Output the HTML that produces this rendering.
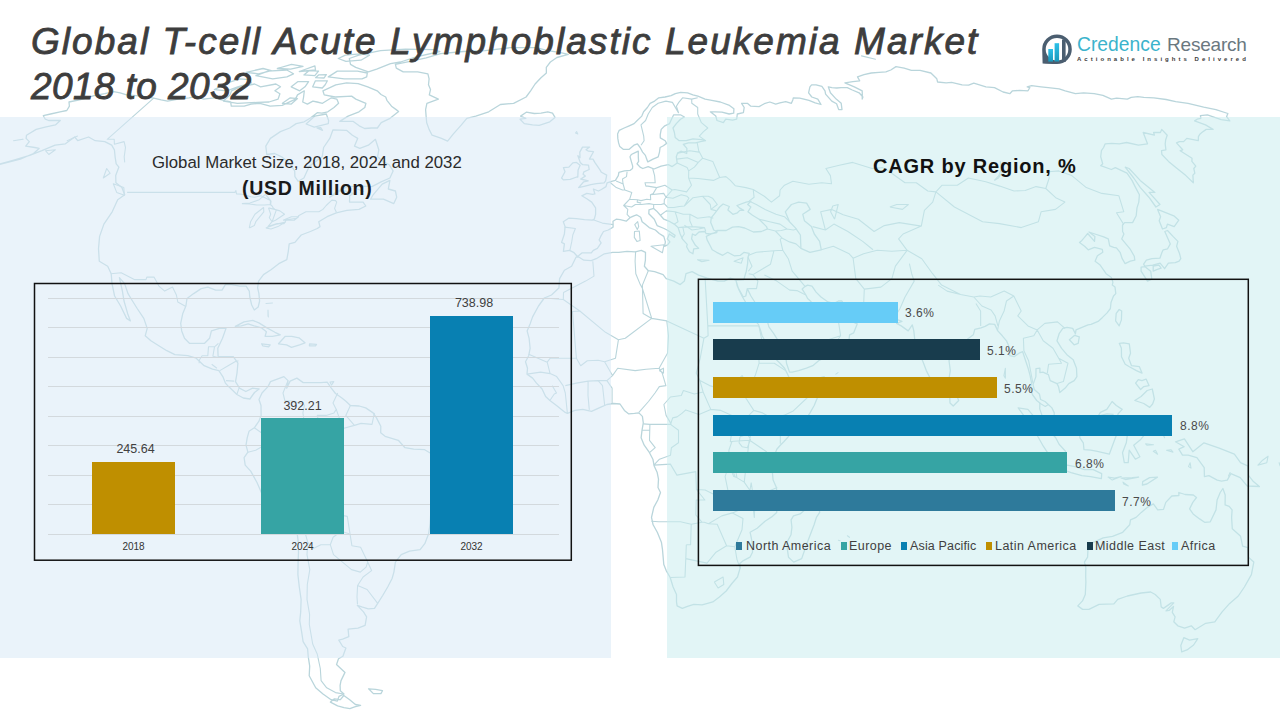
<!DOCTYPE html>
<html>
<head>
<meta charset="utf-8">
<style>
html,body{margin:0;padding:0;}
body{width:1280px;height:720px;position:relative;overflow:hidden;background:#ffffff;font-family:"Liberation Sans",sans-serif;}
.abs{position:absolute;}
#panelL{left:0;top:117px;width:611px;height:541px;background:rgba(217,233,246,0.55);}
#panelR{left:667px;top:117px;width:613px;height:541px;background:rgba(202,237,239,0.55);}
#map{left:0;top:0;width:1280px;height:720px;}
.title{left:31px;font-size:37px;font-weight:normal;font-style:italic;color:#3d3d3d;-webkit-text-stroke:0.85px #3d3d3d;line-height:45px;white-space:nowrap;}
.sub{white-space:nowrap;color:#1a1a1a;}
.grid{position:absolute;left:48px;width:511px;height:1px;background:#d3d9dd;}
.bar{position:absolute;}
.vlab{position:absolute;font-size:12.5px;color:#404040;white-space:nowrap;text-align:center;}
.xlab{position:absolute;font-size:10px;color:#333;white-space:nowrap;text-align:center;}
.hbar{position:absolute;left:713px;height:21px;}
.plab{position:absolute;font-size:12px;letter-spacing:0.5px;color:#4a4a4a;white-space:nowrap;}
.leg{position:absolute;top:539px;font-size:12.5px;letter-spacing:0.45px;color:#404040;white-space:nowrap;}
.mk{position:absolute;width:6px;height:7.5px;top:542px;}
</style>
</head>
<body>
<svg id="map" class="abs" width="1280" height="720" viewBox="0 0 1280 720"><g fill="none" stroke="#b9d5db" stroke-width="1.3" stroke-linejoin="round"><path d="M338.3 58.5L345.9 61.3L360.9 60.2L369.5 55.2L360.4 53.9L345.4 55.2L338.3 58.5ZM303.9 74.9L314.8 75.7L318.5 71.1L308.9 70.7L303.9 74.9ZM315.6 77.7L324.1 78.0L326.3 74.6L318.6 74.9L315.6 77.7ZM246.1 72.3L258.5 73.8L271.4 70.7L263.0 68.5L246.1 72.3ZM282.4 103.3L291.3 104.1L297.5 98.6L290.3 97.8L282.4 103.3ZM277.3 68.5L290.6 69.2L303.1 66.3L291.5 64.4L277.3 68.5ZM299.3 71.5L315.5 70.0L314.9 65.9L299.3 71.5ZM317.0 128.0L322.5 130.3L320.7 127.6L317.0 128.0ZM-7.3 166.1L13.8 160.0L29.7 155.4L41.9 150.7L55.1 145.2L65.4 143.8L74.7 137.0L77.7 140.7L88.6 137.0L95.2 140.7L104.8 141.6L111.7 145.2L114.4 149.8L115.1 156.8L116.2 163.8L118.9 167.1L115.7 175.6L115.9 182.8L121.9 187.6L124.7 194.8L117.7 199.7L112.2 211.8L103.9 224.1L99.6 236.4L98.5 248.8L99.3 261.2L107.7 266.2L111.2 273.7L112.0 283.6L114.6 296.0L120.6 306.0L126.6 318.4L130.4 320.9L127.6 313.4L124.0 301.0L122.4 291.1L119.4 277.6L124.6 283.6L128.0 293.6L132.5 301.0L137.2 308.5L143.8 318.4L147.2 328.4L145.2 335.8L150.9 340.8L158.8 345.8L166.8 350.7L174.9 354.7L187.8 355.7L196.2 358.2L204.1 365.7L212.5 369.2L218.9 370.6L222.8 376.6L225.4 383.1L228.6 386.6L232.8 390.5L236.9 394.5L243.3 398.0L249.9 399.0L254.5 392.5L259.1 389.0L252.6 388.1L245.8 391.5L239.5 388.1L235.5 381.6L237.0 373.1L237.9 363.2L233.3 356.7L224.6 356.7L218.1 356.7L217.8 348.3L222.5 338.3L226.0 328.4L219.5 328.4L211.4 330.9L209.6 338.3L204.6 343.3L195.9 343.3L189.4 343.3L184.5 338.3L181.7 330.9L180.7 323.4L182.8 313.4L185.9 306.0L187.0 298.5L193.7 293.6L201.2 288.6L207.9 287.1L215.7 290.1L222.0 290.1L225.4 284.6L231.7 284.6L239.8 286.1L246.1 286.1L249.3 291.1L249.8 297.0L251.7 305.0L254.3 310.0L258.2 307.0L259.6 301.0L258.9 293.6L257.6 287.6L258.6 281.1L263.5 274.6L271.0 269.7L278.8 263.7L286.8 259.7L288.3 251.3L289.2 243.9L294.9 242.4L301.2 235.0L310.4 231.5L317.3 228.5L320.0 226.6L318.7 221.7L327.1 216.7L336.3 212.8L340.5 211.8L346.9 210.4L359.0 209.4L365.8 206.0L363.1 202.1L349.5 202.1L349.7 195.8L353.2 193.4L345.6 191.0L339.8 191.0L329.9 197.2L335.5 192.4L347.2 186.6L360.7 186.1L371.9 186.6L381.1 181.8L389.9 178.0L393.1 170.9L389.1 164.7L383.0 161.4L377.6 156.8L378.8 149.8L375.4 139.3L368.4 145.2L359.8 148.4L354.5 146.1L357.7 138.4L352.4 135.2L346.5 130.3L333.0 129.8L329.8 138.4L323.6 147.5L322.2 156.8L309.4 166.1L303.9 178.0L298.2 181.3L294.9 176.6L294.7 170.9L289.1 162.9L281.7 156.8L274.6 153.5L266.8 154.5L265.8 146.1L270.4 138.4L280.4 131.6L289.7 128.0L296.2 123.6L304.2 121.8L310.0 118.3L317.3 112.7L321.9 113.1L327.8 111.8L334.0 107.5L338.6 103.3L336.8 99.1L331.4 97.8L322.5 103.3L317.1 102.0L312.9 101.1L307.4 104.1L302.7 102.0L303.6 97.0L304.3 90.8L297.5 94.9L295.5 99.1L282.2 105.4L270.1 106.2L259.9 103.3L251.1 104.1L244.2 106.2L231.3 106.2L230.6 102.0L221.6 99.9L214.3 97.8L203.5 99.1L197.3 96.1L189.0 97.8L178.1 99.1L167.6 101.1L161.2 99.9L153.7 98.2L145.8 97.0L136.4 95.7L126.6 94.9L120.1 92.8L113.8 91.6L104.8 93.7L94.0 95.7L82.8 99.1L69.0 102.0L69.4 106.2L66.8 110.5L60.1 111.8L50.6 114.0L43.3 115.7L45.3 119.2L48.6 120.5L60.3 120.5L55.4 124.9L45.1 127.1L36.2 129.4L26.5 135.2L26.1 138.4L29.3 141.6L25.7 146.1L34.8 147.5L39.1 148.4L33.5 153.5L20.3 159.1L7.7 162.4L-7.3 166.1ZM447.6 141.1L441.5 138.4L432.1 135.2L429.1 129.4L426.7 122.7L426.1 116.1L425.6 109.6L426.9 103.3L438.4 99.1L429.3 94.9L430.5 89.6L428.5 84.8L429.1 78.8L427.9 73.8L417.7 71.9L403.2 71.9L396.3 68.1L395.4 64.4L412.6 60.9L426.2 57.8L440.6 53.6L463.5 51.5L485.1 50.6L510.2 47.7L535.9 47.7L548.0 50.6L560.6 52.7L568.3 54.3L556.9 57.5L550.4 62.0L546.3 67.4L546.4 73.0L541.0 77.7L535.1 84.0L530.6 90.8L526.1 97.0L513.6 103.3L500.4 104.5L488.7 111.8L475.8 116.1L466.8 118.3L461.4 124.9L453.4 133.9L447.6 141.1ZM398.6 111.4L390.1 118.3L381.2 122.7L377.4 128.0L371.6 128.0L364.6 128.5L359.2 125.8L353.3 121.4L339.8 121.4L348.1 116.1L359.0 111.8L364.8 107.5L365.9 103.3L355.8 99.1L351.6 96.1L335.2 97.0L324.2 94.9L322.9 90.8L335.8 84.8L346.6 82.8L358.1 83.6L367.7 86.8L377.2 90.8L381.0 94.5L385.7 97.0L386.9 100.3L391.5 106.2L396.2 109.6L398.6 111.4ZM223.5 101.1L237.4 103.3L257.5 102.4L269.0 102.0L278.1 99.1L279.9 93.7L274.9 90.8L280.5 86.8L275.9 84.0L260.6 86.8L254.6 84.0L240.7 86.8L231.5 90.8L230.1 94.9L223.5 101.1ZM214.4 89.6L227.4 82.8L239.9 78.8L249.4 79.6L251.5 82.8L237.7 86.8L226.8 90.8L214.4 89.6ZM368.4 71.9L355.7 67.4L350.5 64.4L349.3 58.5L358.8 55.2L380.5 50.6L405.6 49.1L433.6 49.7L439.9 51.5L416.3 56.8L400.5 62.0L390.5 63.7L376.7 69.2L368.4 71.9ZM362.0 78.8L344.2 78.8L328.3 76.9L337.3 71.1L357.5 71.1L367.3 73.0L366.7 76.9L362.0 78.8ZM322.3 88.0L312.7 86.8L315.4 80.8L327.4 80.8L325.2 84.8L322.3 88.0ZM299.7 90.8L291.2 86.8L298.0 81.6L308.6 81.6L305.0 86.8L299.7 90.8ZM286.9 76.9L272.7 78.8L255.9 75.7L267.9 71.1L286.8 70.0L293.5 73.8L286.9 76.9ZM328.3 123.6L314.2 127.1L306.1 124.0L314.9 116.1L326.3 114.0L328.6 120.5L328.3 123.6ZM370.6 199.2L383.4 199.2L393.8 203.6L396.7 197.2L395.4 191.0L388.3 189.0L389.9 180.4L382.2 184.2L373.1 194.8L370.6 199.2ZM235.3 326.4L244.0 321.9L252.8 320.4L258.9 322.9L266.9 327.9L275.0 332.3L280.3 334.8L272.4 336.3L265.1 336.3L266.4 331.8L261.7 327.9L254.2 325.9L248.1 323.9L241.3 325.9L235.3 326.4ZM278.5 343.8L285.3 336.3L291.8 336.3L299.0 337.8L305.0 342.8L299.6 344.8L291.5 347.3L286.6 344.8L278.5 343.8ZM261.6 343.8L270.2 344.8L268.6 346.8L262.7 345.8L261.6 343.8ZM309.6 343.8L316.5 344.3L315.5 345.8L309.4 345.8L309.6 343.8ZM262.0 393.0L268.0 386.6L270.5 381.6L277.2 379.1L283.9 376.6L288.0 380.6L286.7 388.1L290.1 381.1L296.9 378.1L303.2 382.6L311.9 382.6L320.7 382.6L327.2 382.1L331.3 388.1L335.5 393.5L341.9 398.0L346.2 401.5L350.4 405.5L359.2 406.0L365.7 407.9L373.1 412.9L376.5 417.9L380.8 426.3L380.7 432.8L385.1 436.3L391.7 438.3L398.3 440.3L405.0 447.7L413.7 449.2L424.7 449.7L431.4 453.7L438.0 459.2L445.5 462.2L447.0 472.6L446.3 480.1L440.8 487.5L435.4 497.5L430.8 502.4L430.8 512.4L430.1 523.8L428.6 533.8L424.8 543.7L420.1 549.7L409.5 551.2L401.2 554.7L395.4 562.1L393.9 572.1L392.1 578.5L387.7 587.0L382.7 595.5L377.7 603.4L374.5 608.4L368.3 608.9L361.8 606.9L357.3 605.4L363.5 611.9L366.6 616.8L365.1 625.3L358.0 628.2L348.1 629.2L348.8 636.6L342.6 639.1L338.8 640.1L342.7 646.5L345.9 648.0L342.9 656.3L338.5 658.8L336.5 664.6L345.0 672.4L341.0 680.6L340.1 685.4L340.3 690.7L344.0 694.0L339.0 696.4L337.3 701.1L331.1 699.7L323.0 694.0L315.7 687.8L309.2 675.8L309.7 666.1L308.2 656.3L307.6 648.9L303.1 641.6L301.6 631.7L299.8 620.8L300.7 611.9L301.1 599.4L299.3 587.0L297.9 574.6L298.1 562.1L298.5 552.2L298.0 539.7L296.3 527.3L290.4 520.8L281.3 516.4L272.0 509.9L267.6 503.9L262.0 494.0L257.0 482.5L250.7 471.1L245.2 465.1L244.1 457.7L247.9 452.2L246.0 445.2L247.2 437.8L249.0 431.3L254.3 427.8L258.8 421.4L261.1 415.4L261.0 405.5L259.0 399.5L262.0 393.0ZM343.8 695.5L349.7 699.7L355.4 704.5L360.6 705.4L354.6 706.8L349.9 708.7L344.0 707.7L337.6 705.9L330.4 702.1L334.4 698.8L340.4 699.7L343.8 695.5ZM368.6 688.8L375.6 689.3L382.5 690.7L380.9 693.6L373.4 693.6L368.6 688.8ZM576.0 257.2L571.6 266.2L564.4 270.2L559.6 278.6L558.9 288.1L551.5 295.0L544.3 298.0L538.5 306.0L532.6 316.9L530.3 323.4L527.1 330.9L529.1 338.3L530.1 348.3L528.7 355.7L525.5 361.7L527.5 368.2L527.0 374.1L532.6 378.1L536.5 383.1L542.1 389.0L545.6 396.5L549.9 400.5L556.5 405.5L565.2 412.4L567.4 413.4L574.9 410.4L582.8 409.4L591.5 411.4L600.3 407.4L606.9 404.5L613.4 403.5L620.0 404.0L624.4 410.4L628.8 413.9L634.5 413.4L638.9 412.9L642.4 416.4L643.3 422.9L642.0 430.3L641.1 437.8L644.2 445.2L649.5 452.7L652.9 459.2L654.2 466.1L657.2 472.6L658.5 479.1L658.0 487.5L660.5 492.5L657.8 500.0L653.8 507.4L651.5 517.4L653.1 524.8L657.3 532.3L661.4 542.2L662.5 549.7L663.8 564.6L666.2 570.6L670.2 577.5L673.1 587.0L676.5 594.5L676.5 601.9L677.1 605.9L682.3 608.4L687.5 606.4L693.8 604.4L702.1 604.9L707.6 603.4L712.8 601.9L719.4 596.9L726.2 591.0L731.9 583.5L737.5 577.0L740.4 567.1L739.8 563.6L743.4 560.6L750.0 557.2L752.5 552.2L752.5 544.7L751.2 537.3L750.1 532.3L757.2 528.3L765.0 521.3L771.7 516.9L776.7 512.4L777.1 504.9L777.0 495.0L776.4 487.5L773.1 480.1L772.4 472.6L771.2 466.6L772.2 460.2L774.5 455.2L776.8 449.2L780.3 445.2L783.8 441.8L787.4 437.8L791.3 432.8L797.9 426.3L804.4 421.4L810.0 412.9L814.2 405.5L817.9 396.5L821.2 389.0L824.0 383.1L824.2 376.6L818.6 378.1L813.4 379.1L807.7 379.6L801.3 381.6L794.8 383.6L789.3 378.1L787.0 373.1L784.6 368.2L780.0 363.2L775.4 358.7L771.8 355.7L768.4 348.3L766.4 343.3L762.1 335.8L760.4 329.9L758.4 324.4L752.9 318.4L751.2 312.0L747.8 306.0L744.9 301.0L742.5 297.0L738.4 288.6L737.3 286.1L735.9 280.1L730.3 278.1L724.3 281.1L718.0 281.1L707.2 278.1L698.6 275.1L692.1 271.7L686.0 273.7L684.4 281.1L680.3 284.6L673.8 281.1L666.2 278.6L663.1 274.6L654.6 271.7L648.3 270.7L644.4 266.2L645.4 260.2L645.5 252.3L641.3 250.3L635.2 251.8L627.0 251.3L618.8 252.3L612.6 252.3L604.4 253.8L596.2 258.7L591.2 260.7L583.8 260.2L578.4 256.8L576.0 257.2ZM815.4 495.0L818.1 502.4L819.7 512.4L816.4 517.4L814.1 524.8L809.3 537.3L805.6 547.2L801.7 558.6L793.7 562.1L788.5 557.2L787.4 549.7L787.0 542.2L791.0 534.8L791.9 527.3L791.1 519.9L793.5 515.9L800.1 513.9L804.7 509.9L808.4 504.9L811.6 502.4L815.4 495.0ZM577.2 256.3L573.6 252.3L569.5 250.3L563.4 251.3L564.4 243.9L561.6 242.4L564.4 234.0L565.1 226.6L563.3 221.7L568.6 218.2L576.5 218.7L584.4 219.7L592.3 220.2L594.3 219.2L595.6 214.3L595.6 207.9L591.7 202.1L586.8 198.7L581.8 195.8L586.8 193.4L592.6 194.3L594.9 193.9L593.4 189.0L598.4 191.0L601.4 189.5L606.0 186.6L607.1 182.8L611.6 181.3L615.4 180.4L618.3 175.6L618.9 172.3L624.4 170.9L630.0 170.4L632.5 168.5L632.7 166.1L631.3 161.4L630.0 156.8L631.3 154.5L636.2 152.1L638.3 151.2L638.3 156.8L638.6 161.4L637.0 163.8L640.1 167.1L642.8 168.5L648.2 166.6L654.0 169.0L661.1 166.1L668.3 164.7L672.2 166.6L677.2 162.9L676.3 156.8L677.6 153.1L680.9 151.2L686.7 153.5L686.9 148.4L683.3 144.3L688.4 142.9L695.4 142.9L700.5 141.6L705.5 140.7L701.8 139.7L692.9 138.8L686.2 140.7L679.2 140.7L675.2 137.5L674.4 132.5L673.0 128.0L676.3 123.6L680.5 119.2L684.4 117.0L680.4 114.8L673.7 114.8L671.5 119.2L669.6 123.6L664.8 125.8L661.2 129.4L660.2 134.8L660.3 137.9L665.2 140.7L666.6 143.4L663.4 145.7L660.1 147.5L659.5 152.1L658.2 156.8L653.0 159.1L647.8 161.9L646.4 158.2L645.4 155.4L642.6 152.1L640.1 147.5L637.4 143.8L633.9 145.2L628.9 149.4L623.5 149.4L619.8 146.6L618.6 142.9L617.8 138.4L617.6 133.9L619.2 130.3L624.2 128.0L629.2 125.8L634.1 123.6L637.2 120.5L641.8 116.1L643.6 111.8L647.4 107.5L650.1 103.3L654.6 101.1L658.8 97.8L665.0 97.0L671.1 95.7L675.3 93.7L680.7 92.4L687.6 92.8L692.9 94.9L697.9 96.1L705.1 99.1L711.8 100.3L720.3 102.0L729.5 105.4L733.9 108.8L733.7 113.1L729.1 114.0L721.9 112.2L715.2 111.8L710.3 111.8L715.8 116.1L717.0 120.5L723.4 122.7L725.7 119.2L732.6 120.1L736.7 119.2L737.3 114.0L743.4 112.7L744.2 107.5L741.6 103.3L747.4 103.3L750.8 106.2L759.1 106.6L764.3 103.7L769.9 102.0L775.7 104.1L779.9 102.8L785.7 101.6L791.4 103.3L792.8 99.9L793.3 97.8L799.8 98.2L809.0 100.3L815.2 102.8L821.0 104.5L817.8 99.1L811.8 97.0L808.6 92.8L809.9 86.8L811.6 84.8L816.1 84.8L821.9 86.4L825.0 90.8L825.6 94.1L831.8 101.1L836.6 103.7L838.7 109.6L842.0 109.6L841.2 103.3L836.2 99.1L830.4 92.8L828.3 86.8L831.9 87.6L836.8 88.0L841.1 87.6L847.3 87.6L852.3 90.0L859.1 92.8L862.9 97.0L862.2 99.1L862.3 94.9L862.2 90.8L854.3 86.8L844.9 82.8L852.9 81.6L859.7 80.8L857.5 76.9L864.0 74.6L871.2 73.0L879.0 72.3L885.9 71.9L890.8 70.0L896.0 66.6L904.2 68.1L911.4 70.4L920.1 70.4L930.9 73.0L936.8 78.8L937.6 82.0L946.1 82.8L951.6 82.4L962.1 84.8L968.6 85.2L973.8 83.2L985.9 86.8L994.5 87.6L1003.1 92.0L1009.8 93.7L1012.5 90.8L1019.7 90.4L1028.0 90.8L1029.8 87.6L1027.2 86.8L1031.6 85.6L1041.0 86.8L1048.2 87.6L1059.2 88.8L1065.2 90.8L1075.4 93.7L1083.6 92.8L1094.2 93.7L1102.9 95.3L1111.4 99.1L1116.6 98.2L1127.3 99.1L1131.2 97.4L1137.8 96.6L1143.8 97.4L1153.9 97.8L1166.1 99.5L1175.7 101.6L1188.0 103.3L1203.7 107.1L1215.9 109.6L1227.9 113.5L1226.6 116.6L1229.8 120.9L1221.2 119.6L1207.4 114.8L1200.4 115.7L1200.9 118.3L1197.1 119.2L1194.6 120.9L1205.5 124.9L1213.1 129.4L1206.2 129.4L1201.8 132.5L1200.1 133.9L1198.4 136.6L1198.3 140.7L1186.8 138.4L1183.6 141.6L1179.4 141.6L1176.5 142.9L1182.7 149.8L1180.2 150.7L1192.0 158.2L1191.9 161.4L1195.8 166.1L1193.8 168.5L1194.8 173.2L1192.9 175.1L1193.3 182.8L1185.9 175.6L1177.1 168.5L1168.5 161.4L1161.9 154.5L1161.5 150.7L1165.9 149.8L1165.2 143.8L1165.7 139.7L1167.2 135.2L1161.7 129.4L1160.4 132.5L1153.6 132.5L1154.4 135.2L1143.2 132.5L1147.5 143.8L1138.4 145.2L1126.6 142.5L1119.3 143.8L1111.8 143.4L1105.2 143.8L1103.6 147.5L1101.4 150.7L1100.7 156.8L1102.7 163.8L1100.7 165.7L1111.4 169.5L1115.3 167.6L1127.0 173.2L1132.0 180.4L1135.1 186.6L1139.4 194.8L1138.8 202.1L1137.0 207.9L1136.2 215.8L1132.6 222.6L1124.6 222.6L1122.5 225.1L1122.6 231.5L1123.9 234.0L1121.7 238.9L1130.0 248.8L1134.3 256.3L1134.8 260.2L1130.3 261.2L1125.1 263.7L1122.2 258.7L1120.1 252.3L1116.4 247.8L1113.7 247.3L1109.7 245.8L1108.3 238.9L1103.7 236.9L1094.9 234.0L1089.0 232.0L1094.9 236.4L1094.5 241.4L1087.7 233.5L1084.5 237.4L1081.9 240.4L1079.5 242.4L1084.6 246.3L1088.2 249.8L1094.5 247.3L1102.3 249.3L1102.8 252.3L1097.4 255.8L1095.1 261.2L1099.8 264.7L1106.1 273.7L1111.4 277.6L1112.9 282.1L1112.3 285.1L1115.0 287.1L1115.8 293.6L1113.5 296.0L1111.0 302.5L1110.4 308.5L1107.1 312.9L1102.5 317.4L1098.1 321.4L1091.0 324.4L1088.0 324.9L1082.0 327.4L1076.0 329.9L1075.4 333.8L1072.7 328.4L1067.0 327.4L1062.8 328.4L1059.3 333.3L1057.0 340.8L1061.6 348.3L1066.9 354.7L1073.2 359.7L1076.5 368.2L1076.9 376.6L1074.2 380.6L1068.8 383.6L1065.2 388.1L1059.8 392.5L1058.5 386.6L1057.0 383.6L1050.2 380.6L1048.4 374.6L1042.9 372.1L1039.9 372.6L1039.9 368.2L1036.0 368.7L1035.9 376.6L1033.0 384.6L1034.3 389.5L1039.4 394.0L1040.6 399.5L1045.0 401.5L1048.3 404.5L1051.9 407.9L1054.3 412.9L1053.7 420.4L1056.4 422.9L1057.8 428.3L1054.8 428.8L1045.0 421.4L1042.2 415.9L1039.7 408.9L1039.9 403.0L1036.7 400.5L1032.4 394.5L1030.2 388.1L1031.6 383.1L1030.1 375.6L1028.1 368.2L1024.8 358.2L1022.7 351.7L1019.0 353.2L1014.2 356.7L1009.7 355.7L1009.7 348.3L1006.5 340.8L1002.3 335.8L997.8 330.9L994.7 324.4L989.5 323.9L985.1 326.4L981.0 327.9L974.8 329.4L973.3 334.8L967.4 339.3L963.7 344.3L957.1 350.7L952.1 356.7L949.0 360.7L950.3 370.6L949.1 378.1L947.8 384.6L943.8 390.5L939.6 395.0L935.0 390.5L931.4 380.6L926.3 370.6L923.0 361.7L919.2 353.2L914.9 340.8L913.8 330.9L912.3 324.9L908.2 330.9L901.2 325.9L896.6 323.4L902.0 321.4L893.9 318.4L888.2 313.4L885.1 309.0L875.8 310.0L863.9 310.0L854.3 309.0L845.6 307.0L841.9 301.0L838.5 301.0L833.7 303.5L828.0 302.0L821.0 297.0L816.1 292.1L812.0 286.1L807.6 285.1L804.9 286.6L802.2 289.1L805.9 295.0L807.6 298.5L810.9 301.5L814.0 307.0L816.6 312.0L820.7 313.9L820.1 308.5L821.2 314.9L827.2 315.4L833.6 314.9L839.6 311.0L840.2 305.0L843.4 314.4L848.0 317.4L852.7 321.9L857.2 323.9L853.7 332.8L849.6 334.8L848.8 341.3L845.2 344.8L839.9 348.3L832.3 351.7L827.0 356.7L818.6 360.7L812.8 365.7L806.4 368.2L798.6 370.6L792.2 372.1L789.5 372.1L786.5 363.2L785.7 355.7L783.1 348.3L778.3 340.8L773.6 333.3L768.9 326.9L766.6 318.4L760.6 312.0L755.7 303.5L750.9 296.0L747.3 288.6L745.8 296.0L743.3 297.0L738.3 288.1L735.9 280.1L743.9 279.6L745.1 275.1L746.3 271.2L747.6 263.7L748.0 257.2L749.2 253.3L744.1 252.3L740.4 255.3L734.2 255.8L727.7 252.3L722.7 255.3L716.6 252.3L712.2 249.8L709.7 244.8L707.1 239.9L706.3 236.4L711.3 234.0L717.1 231.5L713.7 230.0L712.4 226.6L710.7 222.6L711.3 217.7L714.0 214.3L716.7 210.9L719.6 207.0L723.1 204.0L729.3 206.5L727.9 209.9L732.9 214.3L737.4 212.8L739.8 210.4L743.7 210.4L739.4 207.9L737.0 205.5L746.1 202.1L751.0 201.1L747.7 204.5L750.9 207.0L747.9 211.8L752.5 215.3L759.1 219.2L766.5 226.6L767.4 229.0L761.4 231.5L753.4 232.0L744.7 228.0L738.5 226.6L732.5 227.1L726.2 230.5L716.9 230.5L716.8 232.5L710.1 234.0L706.0 233.5L705.0 231.5L699.0 232.0L695.3 235.4L692.4 234.0L691.6 238.9L695.4 245.3L698.6 248.3L693.7 248.8L692.9 253.8L689.4 251.8L686.6 246.8L687.2 244.4L682.7 239.4L680.2 234.0L678.1 227.6L674.2 224.1L670.0 221.7L663.8 219.2L660.4 215.3L656.5 210.9L653.6 208.4L649.0 209.9L648.8 213.8L654.3 219.2L657.1 225.6L664.1 228.5L667.9 230.5L675.1 235.4L674.4 237.4L669.3 234.0L667.3 238.9L669.9 241.9L667.6 244.8L664.5 246.3L665.4 241.9L663.8 236.4L659.2 233.5L655.4 230.0L649.2 227.6L645.0 224.1L642.1 221.7L640.7 217.2L636.6 214.8L633.9 215.8L630.0 217.7L626.2 221.2L620.2 219.7L616.2 219.2L613.0 221.2L613.1 225.6L613.1 227.1L608.3 230.0L603.5 231.5L600.7 236.4L599.1 239.9L601.1 242.9L597.4 248.3L593.3 250.3L591.3 252.8L582.2 252.8L578.5 255.8L577.2 256.3ZM785.3 211.8L791.4 204.5L798.6 202.1L806.6 203.1L810.2 209.4L802.8 214.3L804.4 220.7L811.4 226.6L814.3 234.0L819.6 241.4L821.3 249.8L809.9 252.3L800.9 248.3L800.4 235.0L795.2 227.6L789.5 221.7L785.3 211.8ZM578.6 187.6L585.1 186.1L590.8 184.7L596.5 183.7L604.1 182.8L605.6 180.9L606.7 175.1L601.4 172.3L600.3 170.4L597.4 166.1L594.8 162.4L593.0 159.1L589.4 159.1L593.5 151.7L588.5 151.2L586.0 149.8L589.6 147.1L582.5 147.1L579.8 152.1L580.0 157.7L577.9 155.8L580.2 162.4L582.7 164.7L588.5 165.2L589.2 169.5L583.9 171.8L583.1 174.2L585.3 176.1L580.7 179.0L588.2 180.9L583.7 181.8L578.6 187.6ZM577.8 177.0L578.1 169.9L580.1 165.2L576.5 162.4L572.8 162.9L568.9 167.1L563.4 167.6L565.0 171.8L561.6 178.0L563.4 179.9L570.2 179.4L576.7 177.0L577.8 177.0ZM524.3 123.6L532.5 124.9L539.2 125.4L549.8 121.8L555.0 117.4L552.5 113.1L547.8 111.8L541.0 113.1L534.3 113.5L526.3 112.2L520.6 116.1L525.9 118.3L520.1 119.2L524.3 123.6ZM1155.9 207.0L1160.0 204.5L1149.1 192.4L1154.9 192.4L1140.2 180.4L1129.1 168.5L1125.2 167.1L1133.7 178.0L1140.4 187.6L1148.9 197.2L1155.9 207.0ZM1162.5 229.0L1166.4 227.6L1167.4 224.1L1174.2 226.6L1178.8 220.2L1173.8 215.8L1157.6 209.4L1160.6 216.7L1159.2 220.7L1162.5 229.0ZM1167.5 230.5L1173.0 236.4L1177.9 241.4L1176.6 246.3L1179.6 253.8L1180.8 258.7L1179.1 261.2L1175.3 262.7L1168.4 263.2L1164.6 268.7L1160.1 263.2L1152.7 265.2L1144.8 266.2L1143.6 264.2L1146.4 260.2L1151.9 258.7L1159.9 258.2L1162.0 252.3L1163.2 249.8L1167.6 248.8L1170.3 243.9L1167.0 236.4L1164.8 231.5L1167.5 230.5ZM1141.1 267.2L1145.1 266.7L1150.7 271.2L1151.8 279.1L1147.5 281.1L1141.1 271.2L1141.1 267.2ZM1153.2 271.2L1153.2 266.2L1159.0 265.2L1161.1 268.2L1156.7 269.7L1153.2 271.2ZM1115.6 320.9L1119.2 325.9L1121.4 319.9L1121.7 311.0L1119.2 309.5L1116.2 313.4L1115.6 320.9ZM1069.4 339.8L1074.1 344.8L1078.2 343.3L1079.3 336.8L1074.7 335.3L1069.4 339.8ZM950.0 403.0L953.2 406.0L958.7 400.5L955.7 393.0L951.0 386.6L949.7 395.5L950.0 403.0ZM1018.2 407.9L1027.9 409.4L1039.3 422.9L1046.0 426.8L1055.7 437.8L1059.1 444.3L1065.5 451.2L1064.1 464.1L1058.4 464.1L1049.2 455.2L1043.3 446.2L1037.7 436.3L1032.8 426.8L1025.1 417.4L1018.2 407.9ZM1061.3 469.1L1067.2 465.1L1075.0 466.6L1084.5 469.6L1093.2 469.6L1101.7 473.6L1101.4 478.6L1090.6 476.6L1081.9 475.6L1071.1 472.6L1061.3 469.1ZM1078.9 427.8L1081.5 425.4L1087.7 426.8L1096.2 419.4L1100.4 412.4L1106.8 409.4L1112.1 401.5L1116.3 405.5L1122.2 409.4L1118.0 413.9L1117.4 422.9L1122.9 430.3L1116.4 435.3L1114.1 441.3L1111.7 447.7L1109.3 454.2L1102.8 452.7L1096.2 451.2L1090.6 450.2L1084.0 449.7L1083.3 442.8L1079.9 437.8L1078.9 427.8ZM1124.3 462.7L1128.2 462.7L1129.2 450.2L1135.4 459.2L1139.9 456.7L1133.7 445.2L1140.4 439.8L1149.2 428.8L1144.8 430.8L1129.5 431.8L1127.3 435.3L1126.3 442.8L1122.5 452.7L1124.3 462.7ZM1175.5 441.8L1184.4 438.8L1192.8 451.7L1204.0 442.8L1219.2 448.2L1234.4 454.2L1240.5 462.7L1248.1 466.1L1248.3 475.1L1253.4 481.6L1259.4 486.5L1247.2 486.0L1240.2 477.6L1230.9 473.6L1227.3 480.1L1221.5 481.1L1217.2 480.1L1208.9 475.6L1204.4 476.6L1204.2 467.6L1196.9 457.7L1188.2 455.2L1182.5 455.2L1178.8 449.2L1184.2 446.7L1175.5 441.8ZM1119.3 343.3L1123.5 342.8L1129.3 343.8L1130.5 353.2L1128.7 358.2L1131.5 365.7L1139.4 366.7L1142.0 373.1L1136.4 370.6L1129.4 366.7L1125.2 364.2L1121.5 356.7L1121.4 348.3L1119.3 343.3ZM1134.8 400.5L1141.1 396.5L1147.2 390.5L1152.3 389.0L1154.4 399.0L1152.6 404.0L1149.7 407.4L1143.8 403.5L1134.8 400.5ZM1135.6 383.1L1138.3 379.6L1141.9 380.6L1146.1 379.1L1149.0 385.6L1143.8 386.6L1140.6 389.5L1135.6 383.1ZM1142.7 481.6L1149.6 477.6L1157.5 477.1L1146.9 484.0L1142.4 485.0L1142.7 481.6ZM1088.2 544.7L1090.5 543.7L1103.2 537.8L1112.5 536.3L1122.7 532.3L1129.7 524.8L1130.5 519.9L1136.1 517.4L1141.3 512.4L1147.2 507.4L1153.4 503.9L1157.7 509.9L1163.5 509.4L1165.8 502.4L1171.8 496.0L1178.9 495.5L1178.8 492.5L1185.1 494.5L1193.3 495.0L1196.5 497.5L1192.8 502.4L1189.6 508.9L1193.1 513.9L1199.6 518.9L1204.6 522.3L1210.3 521.8L1216.0 509.9L1217.1 500.0L1220.2 492.5L1222.9 488.5L1225.2 495.0L1225.1 504.9L1229.2 506.4L1232.1 509.9L1231.6 517.4L1232.3 528.8L1240.6 536.3L1242.6 546.2L1247.9 547.7L1248.4 557.2L1253.8 562.1L1251.4 574.6L1244.4 587.0L1238.3 596.0L1229.7 603.4L1222.1 611.9L1214.8 621.8L1205.7 623.3L1195.1 629.7L1191.3 625.8L1184.6 628.2L1177.8 625.8L1173.8 621.8L1175.1 616.8L1172.3 612.4L1173.5 606.4L1169.1 610.4L1166.0 610.9L1173.8 602.9L1171.3 602.9L1163.4 608.4L1161.2 606.9L1160.3 599.4L1155.2 594.5L1150.7 592.0L1141.1 593.0L1127.4 596.0L1117.7 599.4L1113.9 603.9L1099.1 604.4L1088.9 609.4L1082.6 609.4L1077.8 605.9L1082.5 600.9L1085.3 594.5L1085.9 582.0L1085.7 577.0L1085.8 567.1L1084.4 562.1L1087.6 557.2L1088.2 544.7ZM1183.9 637.6L1189.6 640.1L1197.8 638.6L1193.6 645.0L1187.0 649.9L1181.7 651.9L1180.8 645.5L1183.9 637.6Z"/><path d="M127.1 192.4L234.9 192.4L235.9 190.5L236.5 193.9L242.4 194.3L250.9 196.8L254.5 197.2L261.0 195.8L270.4 200.6L270.3 204.5L272.1 206.0L273.2 207.9L276.2 210.4L272.1 221.7L267.9 226.6L277.0 223.6L284.2 223.6L286.4 219.7L296.9 218.2L298.5 215.8L305.9 211.8L318.9 211.8L322.9 209.4L326.2 205.5L331.9 200.1L335.6 200.6L336.7 202.1L334.6 208.4L336.4 212.3M153.7 98.2L107.2 139.3L114.2 139.3L114.4 144.3L124.1 141.6L125.5 147.5L124.2 156.8L124.7 162.4M110.8 273.7L121.2 272.7L134.3 279.6L146.0 279.6L146.8 277.1L154.0 277.1L158.9 286.1L164.7 291.1L172.5 287.1L176.4 295.0L177.8 302.0L185.8 306.5M199.1 363.2L199.5 359.7L202.1 355.7L207.8 355.7L208.5 346.8L214.5 346.8L218.4 343.3M214.5 346.8L212.9 356.2L217.2 357.2M211.7 364.2L216.9 368.2M219.8 370.6L228.1 365.7L235.0 361.7L238.5 360.7M226.0 380.6L234.2 381.1M237.0 394.0L239.0 388.1M241.9 203.6L249.9 203.1L259.2 199.7L265.5 194.3L271.0 201.1L270.7 204.5L264.7 205.0L256.9 205.0L249.5 204.0L241.9 203.6M249.3 228.0L250.6 221.7L254.9 214.3L263.6 207.5L263.8 211.8L255.8 221.7L254.3 225.6L249.3 228.0M268.5 207.9L274.6 209.4L279.9 210.9L284.5 214.3L275.5 220.2L272.1 221.7L269.3 217.7L270.7 214.3L268.5 207.9M265.7 228.0L276.8 224.1L285.5 222.1L277.9 226.6L271.0 229.0L265.7 228.0M283.0 220.2L294.2 220.2L298.6 216.7L291.5 216.7L283.0 220.2M288.0 380.6L283.0 393.0L284.8 400.5L293.6 401.0L304.4 405.0L302.9 412.9L304.8 425.4L307.0 429.3L295.1 430.3L293.8 437.8L293.6 456.2M337.7 393.0L333.0 403.0L336.3 409.4L334.0 412.9L326.1 415.4L317.3 415.4L319.3 425.4L307.0 429.3M350.4 405.5L345.8 415.4L354.4 425.4L361.0 423.4L372.0 424.4L374.4 412.9M336.3 409.4L339.2 417.9L342.1 428.8L354.4 425.4M247.9 452.2L255.7 450.2L268.8 442.8L269.6 434.3L262.1 433.3L254.3 427.8M269.6 434.3L277.5 441.3L282.0 447.2L290.9 454.2L293.6 456.2L282.3 460.2L280.5 470.1L276.2 472.6L283.2 482.5L292.4 490.0L298.9 490.0L300.2 497.5L297.9 507.4L300.7 514.9L297.9 522.3L296.2 526.8M298.9 490.0L311.7 484.0L316.4 490.0L330.0 500.0L336.8 503.9L339.8 514.9L347.3 516.4L350.0 533.8L351.9 545.7L360.6 547.2L367.7 562.1M297.9 522.3L304.3 529.8L307.7 542.2L312.7 548.7L320.9 544.7L330.3 544.7L333.1 537.3L341.2 531.3L349.1 533.8M330.3 544.7L333.5 554.7L351.5 569.6L360.3 572.1L366.1 567.1L367.7 562.1L371.6 570.6L363.1 577.0L357.6 585.5L367.1 589.5L377.7 603.4M357.6 585.5L357.0 596.9L357.5 604.4M307.7 542.2L307.0 554.7L309.8 569.6L307.3 584.5L307.0 599.4L309.6 614.3L309.3 624.3L312.7 644.0L317.2 653.9L320.3 668.5L321.1 680.6L326.7 687.8L335.5 692.6L343.6 694.0M593.1 219.7L602.3 223.1L613.1 224.6M564.6 227.1L575.4 228.5L572.8 235.0L571.8 241.4L569.9 250.3M609.8 182.3L616.3 187.6L622.5 190.0L624.8 190.0L631.8 192.4L629.7 199.2L623.7 205.5L627.8 209.4L627.1 214.3L630.0 217.7M624.8 190.0L623.0 183.7L622.5 179.0L626.5 176.6L627.1 171.8M616.1 180.9L622.7 183.7M629.7 199.2L637.5 199.7L641.0 200.6L646.8 199.2L650.7 199.7L650.4 194.8L653.3 193.4L656.7 187.6L647.8 186.1L645.9 186.1L645.0 182.8L655.2 182.8L654.6 175.6L652.8 169.0M623.7 205.5L631.6 207.0L635.4 204.5L641.3 204.5L649.0 203.6L653.7 204.5L653.6 208.4M637.5 199.7L637.2 202.1L641.2 203.1M656.7 187.6L664.9 185.2L672.2 190.0L674.8 189.5L686.6 191.9L691.5 185.2L688.6 178.0L688.7 170.9L687.1 167.6L677.2 162.9M650.4 194.8L663.7 193.4L666.0 197.2L664.3 199.7L664.2 203.6L661.1 204.5L653.7 204.5M666.0 197.2L673.0 198.2L681.2 194.8L687.1 196.3L688.9 198.2L684.3 206.0L679.3 206.5L673.9 207.5L668.0 207.5L664.2 203.6M672.2 190.0L666.0 197.2M660.4 215.3L666.3 210.9L675.1 211.8L676.7 216.7L678.0 221.7L674.2 224.1M675.1 211.8L683.2 214.3L689.9 214.3L689.8 220.7L692.4 226.6L682.8 227.1L678.1 227.6M684.3 206.0L693.1 197.7L702.6 196.3L710.3 204.5L711.0 209.4L716.7 210.9M689.9 214.3L697.5 218.2L709.2 216.7L713.3 218.2M692.4 226.6L704.5 227.6L705.8 231.5M682.8 227.1L684.3 234.0L681.4 238.4M684.3 225.1L692.0 230.0L698.7 229.0L704.5 227.6M688.6 178.0L698.0 178.5L713.4 180.4L719.7 177.5L725.9 176.6L730.4 180.4L735.2 185.7L745.9 187.6L753.2 189.5L754.1 197.2L749.0 201.1M688.7 170.9L694.4 167.1L698.3 162.4L702.7 158.2L712.8 161.4L719.7 177.5M676.7 159.1L687.3 157.7L698.3 162.4M677.6 153.1L689.8 150.7L699.0 152.1M702.6 196.3L708.3 196.3L712.5 198.2L717.3 204.5L711.0 209.4M697.2 142.9L698.7 150.7L702.7 158.2M705.5 140.7L699.3 136.1L703.5 131.6L707.8 128.0L701.4 122.7L697.7 114.0L697.7 107.5L691.8 103.3L691.7 99.1L697.7 97.8M691.7 99.1L682.6 97.8L678.8 102.4L676.4 106.2L678.7 113.1M665.8 101.1L658.1 103.3L652.3 107.5L648.2 114.0L645.6 120.5L641.0 124.9L643.7 136.1L644.1 140.7L641.0 145.2M665.8 101.1L672.4 102.4L678.7 113.1M753.2 189.5L764.3 196.3L771.4 202.1L779.6 195.8L780.1 190.0L784.5 185.2L792.9 181.3L808.9 184.2L821.7 182.8L831.5 183.7L830.4 175.6L825.9 168.5L839.3 165.2L852.7 162.4L872.1 168.5L882.7 167.6L889.6 171.8L905.0 182.8L916.3 182.8L927.8 191.0L935.9 191.9L942.1 185.2L957.3 185.2L968.4 178.0L985.8 181.8L999.7 186.1L1014.0 191.0L1025.2 190.5L1036.1 186.6L1045.8 188.5L1049.2 178.0L1048.4 171.8L1058.8 170.9L1071.8 175.6L1086.3 187.6L1101.8 193.4L1118.9 195.8L1123.8 211.8L1116.5 212.8L1123.5 224.1L1122.5 225.1M749.0 201.1L756.3 204.5L765.1 209.4L776.0 214.3L784.4 216.7L789.5 221.7M759.1 219.2L769.6 221.7L780.0 224.1L787.0 229.0L781.3 230.5L775.4 231.0L767.4 229.0M775.4 231.0L781.9 237.9L780.2 239.4L782.8 250.3L773.9 250.8L756.4 252.3L748.6 255.3M787.0 229.0L793.3 230.0L797.1 229.0M781.9 237.9L789.5 241.9L796.0 243.9L800.9 248.3M935.9 191.9L954.4 207.0L982.6 221.7L999.5 223.6L1021.3 227.6L1038.4 221.7L1041.1 211.8L1055.5 209.4L1064.9 202.1L1055.7 197.7L1045.8 188.5M935.9 191.9L932.7 202.1L924.4 210.4L921.3 226.1L903.1 234.0L898.6 238.9L907.1 250.3L921.8 258.7L932.6 273.7L941.6 285.1L960.5 294.5L973.8 297.0L979.9 296.0L990.7 297.0L1004.2 291.1L1013.8 296.0L1021.2 311.0L1017.8 315.9L1028.0 325.9L1037.2 329.9L1044.8 323.4L1057.5 321.9L1065.0 328.4M812.6 226.6L825.4 230.0L820.7 211.8L831.8 209.4L843.2 214.8L858.4 219.2L874.1 231.5L884.3 225.6L899.3 222.6L921.3 226.1M825.4 230.0L833.9 224.1L847.9 231.5L862.7 241.4L873.0 249.8M821.3 249.8L833.3 246.3L849.2 253.8L853.1 258.2L863.6 253.8L877.2 250.3L891.8 251.3L907.1 250.3M853.1 258.2L855.8 278.6L864.3 289.1L863.4 310.0M864.3 289.1L880.9 287.1L891.9 278.6L895.4 266.2L907.1 250.3M909.4 263.7L911.7 273.7L914.2 281.1L905.0 297.0L900.0 308.5L893.9 318.4M938.2 285.1L947.1 291.1L960.5 294.5M975.9 303.5L980.6 311.0L980.7 325.9M997.9 325.9L995.1 315.9L991.1 310.0L981.9 306.0L973.8 297.0M997.4 330.9L999.4 320.9L1004.1 311.0L1006.5 301.0L1013.8 296.0M1037.2 329.9L1033.8 335.8L1023.4 338.3L1023.9 350.7L1028.6 360.7L1032.9 383.1M1037.2 329.9L1043.2 340.8L1053.0 348.3L1058.7 358.2L1061.5 363.2L1048.6 364.2L1047.3 373.1M1058.7 358.2L1068.0 363.2L1063.4 381.6L1057.0 383.6M1039.4 403.0L1045.3 406.5L1048.3 404.5M1081.5 425.4L1091.9 421.4L1100.5 415.4L1107.0 413.9L1113.6 414.4M804.8 286.1L792.2 271.2L788.3 258.7L782.8 250.3M773.9 250.8L770.5 264.2L762.0 269.2M762.0 269.2L753.0 274.6L748.7 273.7M748.0 257.2L752.0 266.2L748.4 271.2M764.4 275.1L776.8 281.1L789.7 290.1L796.9 290.6L802.8 293.6L805.9 295.0M753.0 274.6L757.9 281.1L756.5 288.6L748.1 288.6M786.9 353.2L801.8 349.3L825.0 340.8L840.6 335.8L838.6 322.4L823.4 320.9L820.7 313.9M827.0 356.7L830.1 350.7L840.6 335.8M838.6 322.4L840.1 315.9L840.9 311.5M592.8 261.2L594.0 276.1L585.6 281.1L563.5 292.6L563.3 299.5L544.3 298.0M563.3 299.5L579.8 311.0L572.5 311.5L576.4 358.2L550.3 358.2L547.2 362.2L528.7 354.2M547.2 362.2L550.1 373.6L540.6 372.1L527.0 374.1M550.1 373.6L556.7 376.6L563.1 385.6L565.3 393.0L567.4 413.4M549.9 400.5L554.3 394.0L556.5 393.0L552.2 385.6M576.4 358.2L580.7 365.7L587.3 360.7L598.1 360.2L604.6 361.7L612.5 375.6L606.9 380.6L598.1 380.6L588.1 381.1L576.3 383.1L565.3 385.6M588.1 381.1L588.0 395.5L589.3 409.9M598.1 380.6L602.5 385.6L604.7 405.5M606.9 380.6L612.1 388.1L612.1 404.0M579.8 311.0L605.5 332.3L618.4 339.8L625.3 338.3L651.7 318.4L649.4 311.0L642.5 288.6L640.3 284.6L635.8 273.7L635.1 261.2L635.6 251.8M618.4 339.8L615.5 358.2L604.6 361.7M612.5 375.6L617.7 368.2L635.2 370.6L646.1 369.2L659.1 368.2L662.2 373.1L665.9 385.6L659.3 386.6L655.0 393.0L648.5 401.5L638.9 412.4M648.3 270.7L642.4 285.1L643.1 313.4L651.7 318.4M651.7 318.4L666.8 320.9L703.9 338.3L708.1 335.8L707.8 325.9L705.1 278.1M707.8 325.9L735.7 325.9L758.9 325.9M666.8 320.9L668.5 335.8L667.5 353.2L659.1 368.2M703.9 338.3L700.2 358.2L698.3 365.7L696.2 373.1L699.9 380.6L703.1 392.0L694.4 394.0L683.4 390.5L681.3 395.5L670.4 397.0L663.9 404.5L666.1 415.4L671.4 424.4M699.9 380.6L709.6 385.6L718.4 388.1L731.5 385.6L742.1 375.6L749.0 388.1L749.1 393.0L744.8 396.5L753.8 410.4L747.3 416.9L738.5 416.4L734.1 416.4L720.9 410.4L710.8 409.4L703.1 392.0M758.9 325.9L762.5 343.3L758.7 353.2L759.1 363.2L765.6 363.2L774.3 363.2L785.6 370.6M749.0 388.1L755.2 375.6L759.1 363.2M753.8 410.4L762.6 412.9L771.5 417.9L783.7 415.4L793.3 410.9L809.6 395.5L788.1 380.6M783.7 415.4L780.3 421.4L780.3 443.8M747.3 416.9L751.8 427.8L749.6 440.3L765.8 451.2L772.2 458.7M734.1 416.4L737.7 424.4L732.0 430.3L730.3 441.8L733.8 441.3L749.2 440.3M653.8 465.1L670.4 464.1L676.9 475.1L695.8 471.6L696.4 489.5L705.1 490.0L720.2 497.5L730.2 501.4L725.1 476.6L729.7 462.7L728.9 450.2L732.0 441.3M653.8 465.1L659.5 459.2L670.5 455.2L671.4 447.7L678.5 442.8L678.5 430.3L670.5 424.4L672.7 417.9L677.1 416.9L681.9 413.4L685.8 409.9L699.0 414.4L710.8 409.4M643.3 423.9L649.9 424.4L658.7 424.4L670.5 424.4M649.9 424.4L649.5 440.3L655.2 447.7L649.5 452.7M642.0 430.3L649.9 430.3M651.4 521.3L658.8 521.8L680.5 521.8L691.2 524.3L702.1 522.3L704.3 522.3L708.5 523.8M696.4 489.5L704.9 500.0L696.2 500.0L695.8 514.9L702.1 522.3M686.3 544.7L685.8 558.6L685.0 577.0L670.2 577.5M691.2 524.3L690.6 544.7L686.3 544.7M685.8 558.6L707.0 563.1L716.0 552.2L726.6 545.7L734.8 546.7L737.0 559.6L740.3 568.6M708.5 523.8L717.2 524.3L726.6 545.7M708.5 523.8L721.8 515.9L732.4 512.9L743.0 518.4L742.0 529.8L734.8 546.7M730.2 501.4L745.2 507.4L732.4 512.9M745.2 507.4L754.8 506.4L754.3 517.4L751.4 492.5L744.2 482.1L735.1 476.6L729.7 462.7M751.4 492.5L764.0 493.0L777.3 487.5M744.2 482.1L749.2 440.3M714.3 582.0L723.1 577.0L723.8 584.5L718.1 588.0L714.3 582.0M740.0 436.8L747.4 434.3L750.5 439.3L747.4 447.7L742.1 446.7L739.1 442.8L740.0 436.8M728.5 451.7L731.9 457.7L735.3 467.6L736.9 477.6L733.8 476.6L728.7 465.1L728.5 451.7M751.2 482.5L752.3 490.0L754.0 504.9L750.6 502.4L749.6 492.5L751.2 482.5M659.1 370.6L663.5 368.2L663.5 373.1L659.1 370.6M834.6 219.2L838.2 204.5L832.8 206.0L830.6 211.8L834.6 219.2M889.8 207.0L896.7 204.5L908.4 204.5L902.5 209.4L889.8 207.0M994.3 180.4L998.8 175.6L1001.5 168.5L1000.2 161.4L1003.1 170.9L998.5 178.0L994.3 180.4M634.5 231.5L639.3 231.0L640.1 240.4L636.9 241.4L634.3 237.4L634.5 231.5ZM634.7 224.6L637.7 221.7L638.7 226.6L637.3 229.5L634.7 224.6ZM651.0 246.3L664.0 244.8L662.4 252.8L651.0 246.3ZM697.5 259.7L709.1 260.2L701.8 261.7L697.5 259.7ZM734.0 261.2L743.1 257.7L741.3 263.2L734.0 261.2ZM576.6 131.6L577.8 133.9L575.5 133.0L576.6 131.6ZM-73.8 340.8L-68.0 338.3L-71.6 334.8L-73.8 340.8ZM77.5 136.1L67.2 140.7ZM106.7 168.5L110.1 173.2L103.3 178.0L106.7 168.5ZM113.3 183.7L123.8 187.6L124.4 195.3L116.7 192.4L113.3 183.7ZM45.5 150.7L55.4 149.8L48.8 154.5L45.5 150.7ZM356.0 188.5L363.8 191.4L356.0 188.5ZM19.2 139.7L23.2 139.3L13.5 140.7L19.2 139.7ZM875.5 59.2L861.5 55.9ZM1230.1 472.6L1228.5 476.1ZM1160.1 427.8L1164.6 437.8L1161.5 431.3L1160.1 427.8ZM1166.5 450.2L1173.0 452.2L1170.9 449.7L1166.5 450.2ZM1153.3 451.2L1157.6 454.2L1155.5 450.2L1153.3 451.2ZM1108.1 477.1L1114.6 478.1L1121.2 476.6L1112.2 480.1L1108.1 477.1ZM1121.1 478.1L1132.1 477.6L1138.7 477.1L1125.4 479.6L1121.1 478.1ZM1123.0 482.1L1128.3 486.0L1123.7 484.0L1123.0 482.1ZM1262.6 460.2L1268.1 456.2L1266.8 462.7L1257.9 465.1L1262.6 460.2ZM1279.8 465.1L1281.7 469.1L1279.1 462.7L1279.8 465.1ZM1296.2 477.6L1302.3 482.5L1306.2 486.0L1298.0 481.6L1296.2 477.6ZM1307.4 536.3L1315.7 546.2L1310.2 542.2L1307.4 536.3ZM1368.3 522.3L1372.9 524.8L1368.2 526.3L1368.3 522.3ZM1145.6 443.8L1153.5 444.7L1146.9 445.2L1145.6 443.8ZM1190.1 462.7L1191.0 468.1L1188.5 466.6L1190.1 462.7ZM948.3 394.5L949.8 388.1ZM1003.9 375.6L1005.4 368.2L1005.4 378.1L1003.9 375.6ZM331.5 385.1L333.8 381.6L329.9 382.1L331.5 385.1ZM268.0 315.9L268.0 310.0L268.3 316.9ZM266.0 303.5L272.5 303.0ZM805.4 495.0L812.0 492.5ZM835.9 374.1L838.0 372.6ZM847.4 535.8L849.4 537.3ZM838.4 540.2L840.1 540.7Z" stroke-width="1.1"/></g></svg>
<div id="panelL" class="abs"></div>
<div id="panelR" class="abs"></div>

<div class="abs title" style="top:19px;letter-spacing:2.05px;">Global T-cell Acute Lymphoblastic Leukemia Market</div>
<div class="abs title" style="top:64px;letter-spacing:0.4px;">2018 to 2032</div>

<!-- logo -->
<svg class="abs" style="left:1038px;top:30px;" width="38" height="38" viewBox="0 0 38 38">
<defs><linearGradient id="bg1" x1="0" y1="0" x2="0" y2="1"><stop offset="0" stop-color="#2cc0e8"/><stop offset="1" stop-color="#1a98bb"/></linearGradient></defs>
<path fill-rule="evenodd" fill="#4b5e70" d="M4.2 19.2 A14.8 14.8 0 1 1 19 34 Q10 34 4.6 33.6 Z M19 7.9 A11.3 11.3 0 1 0 19 30.5 A11.3 11.3 0 1 0 19 7.9 Z"/>
<rect x="10.3" y="19" width="4.7" height="12.6" fill="url(#bg1)"/>
<rect x="16.6" y="13.2" width="4.5" height="18.3" fill="url(#bg1)"/>
<rect x="24" y="9.5" width="3.6" height="22.5" fill="#4b5e70"/>
</svg>
<div class="abs" style="left:1077px;top:33.5px;font-size:19.3px;line-height:22px;color:#3bb3cc;white-space:nowrap;">Credence</div>
<div class="abs" style="left:1167px;top:33.5px;font-size:19px;line-height:22px;letter-spacing:-0.2px;color:#6a7880;white-space:nowrap;">Research</div>
<div class="abs" style="left:1077px;top:55px;font-size:6px;line-height:8px;color:#3a3a3a;letter-spacing:3.03px;white-space:nowrap;font-weight:bold;">Actionable Insights Delivered</div>

<!-- left chart -->
<div class="abs sub" style="left:152px;top:153px;font-size:16.8px;color:#2b2b2b;">Global Market Size, 2018, 2024 and 2032</div>
<div class="abs sub" style="left:242px;top:177px;font-size:19.5px;font-weight:bold;letter-spacing:0.7px;">(USD Million)</div>

<svg class="abs" style="left:0;top:0;" width="1280" height="720"><rect x="34.5" y="283.5" width="536.8" height="276.7" fill="none" stroke="#111" stroke-width="1.5"/><rect x="698.4" y="279.3" width="549.9" height="286.1" fill="none" stroke="#111" stroke-width="1.5"/></svg>
<div class="grid" style="top:298px"></div>
<div class="grid" style="top:327px"></div>
<div class="grid" style="top:357px"></div>
<div class="grid" style="top:386px"></div>
<div class="grid" style="top:416px"></div>
<div class="grid" style="top:445px"></div>
<div class="grid" style="top:475px"></div>
<div class="grid" style="top:504px"></div>
<div class="grid" style="top:534px"></div>

<div class="bar" style="left:92px;top:462px;width:83px;height:72px;background:#bf8f00;"></div>
<div class="bar" style="left:261px;top:418px;width:83px;height:116px;background:#36a4a4;"></div>
<div class="bar" style="left:430px;top:316px;width:83px;height:218px;background:#0880b2;"></div>

<div class="vlab" style="left:94px;width:83px;top:442px;">245.64</div>
<div class="vlab" style="left:261px;width:83px;top:399px;">392.21</div>
<div class="vlab" style="left:432.5px;width:83px;top:296px;">738.98</div>

<div class="xlab" style="left:92px;width:83px;top:541px;">2018</div>
<div class="xlab" style="left:261px;width:83px;top:541px;">2024</div>
<div class="xlab" style="left:430px;width:83px;top:541px;">2032</div>

<!-- right chart -->
<div class="abs sub" style="left:873px;top:155px;font-size:20px;font-weight:bold;color:#111;letter-spacing:0.8px;">CAGR by Region, %</div>

<div class="hbar" style="top:302px;width:185px;background:#66ccf7;"></div>
<div class="hbar" style="top:339px;width:267px;background:#183c4d;"></div>
<div class="hbar" style="top:377px;width:284px;background:#bf8f00;"></div>
<div class="hbar" style="top:415px;width:459px;background:#0880b2;"></div>
<div class="hbar" style="top:452px;width:354px;background:#36a4a4;"></div>
<div class="hbar" style="top:490px;width:402px;background:#2e7a9b;"></div>

<div class="plab" style="left:905px;top:306px;">3.6%</div>
<div class="plab" style="left:987px;top:344px;">5.1%</div>
<div class="plab" style="left:1004px;top:382px;">5.5%</div>
<div class="plab" style="left:1180px;top:419px;">8.8%</div>
<div class="plab" style="left:1075px;top:457px;">6.8%</div>
<div class="plab" style="left:1122px;top:495px;">7.7%</div>

<div class="mk" style="left:736.2px;background:#2e7a9b;"></div><div class="leg" style="left:746px;">North America</div>
<div class="mk" style="left:841px;background:#36a4a4;"></div><div class="leg" style="left:849px;">Europe</div>
<div class="mk" style="left:900.5px;background:#0880b2;"></div><div class="leg" style="left:910px;letter-spacing:0.15px;">Asia Pacific</div>
<div class="mk" style="left:986px;background:#bf8f00;"></div><div class="leg" style="left:995px;">Latin America</div>
<div class="mk" style="left:1086.5px;background:#183c4d;"></div><div class="leg" style="left:1095px;">Middle East</div>
<div class="mk" style="left:1171.5px;background:#66ccf7;"></div><div class="leg" style="left:1181px;">Africa</div>

</body>
</html>
